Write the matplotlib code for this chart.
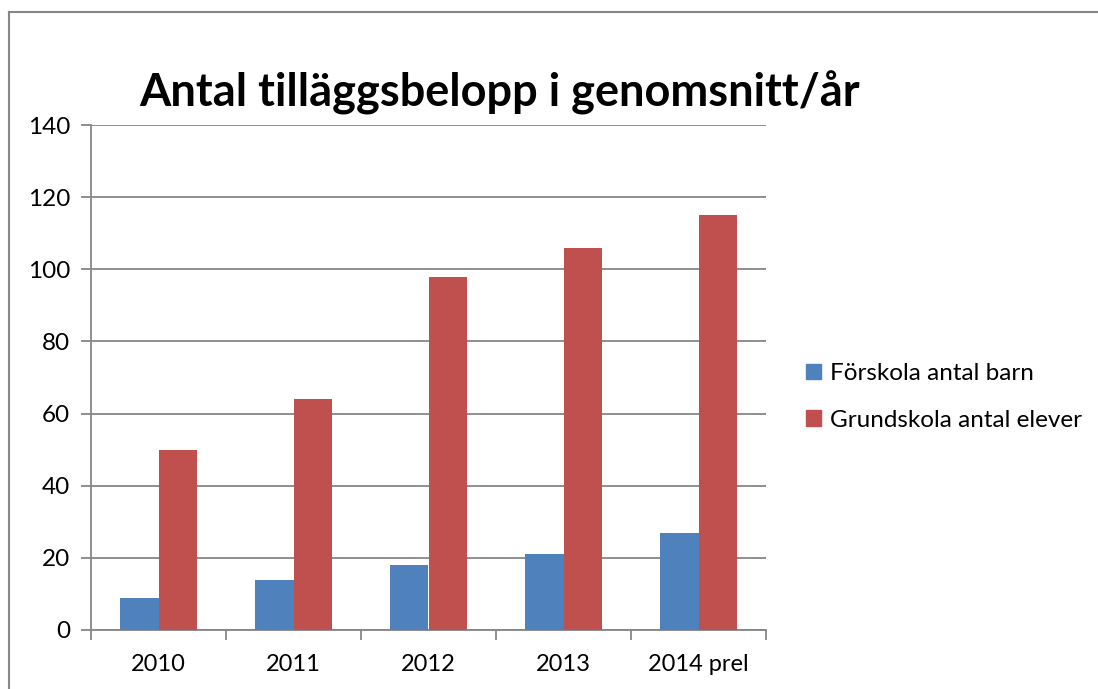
import matplotlib
matplotlib.use("Agg")
import matplotlib.pyplot as plt
from matplotlib.lines import Line2D
from matplotlib.patches import Patch
import numpy as np

categories = ["2010", "2011", "2012", "2013", "2014 prel"]
forskola = [9, 14, 18, 21, 27]
grundskola = [50, 64, 98, 106, 115]
series_names = ["Förskola antal barn", "Grundskola antal elever"]
colors = ["#4F81BD", "#C0504D"]
yticks = [0, 20, 40, 60, 80, 100, 120, 140]

plt.rcParams['font.family'] = ['Lato', 'DejaVu Sans']

W, H = 1098, 689
fig = plt.figure(figsize=(W / 100, H / 100), dpi=100)

# outer chart border
fig.add_artist(Line2D([9 / W, 9 / W], [0, 1 - 12 / H], color="#868686", lw=1.5, transform=fig.transFigure))
fig.add_artist(Line2D([9 / W, 1], [1 - 12 / H, 1 - 12 / H], color="#868686", lw=1.5, transform=fig.transFigure))

ax = fig.add_axes([91 / W, 1 - 630 / H, (766 - 91) / W, (630 - 125) / H])
x = np.arange(len(categories))
bw = 0.285
ax.bar(x - bw / 2, forskola, bw, color=colors[0], zorder=3)
ax.bar(x + bw / 2, grundskola, bw, color=colors[1], zorder=3)

ax.set_xlim(-0.5, len(categories) - 0.5)
ax.set_ylim(0, 140)
ax.set_yticks(yticks)
ax.yaxis.grid(True, color="#868686", lw=1.3, zorder=0)
ax.set_axisbelow(True)
for s in ["top", "right"]:
    ax.spines[s].set_visible(False)
for s in ["left", "bottom"]:
    ax.spines[s].set_color("#868686")
    ax.spines[s].set_linewidth(1.3)

ax.set_xticks(x)
ax.set_xticklabels(categories)
ax.tick_params(axis="x", length=0, labelsize=17, pad=17)
ax.set_xticks(np.arange(-0.5, len(categories) + 0.5, 1), minor=True)
ax.tick_params(axis="x", which="minor", length=7, width=1.3, color="#868686")
ax.tick_params(axis="y", length=7, width=1.3, color="#868686", labelsize=17.5, pad=8)

fig.text(500 / W, 1 - 93 / H, "Antal tilläggsbelopp i genomsnitt/år", ha="center", va="center",
         fontsize=32.5, fontweight="bold")

handles = [Patch(color=c) for c in colors]
fig.legend(handles, series_names, loc="center left", bbox_to_anchor=(787 / W, 1 - 397 / H),
           frameon=False, fontsize=17.5, handlelength=0.6, handleheight=0.6, handletextpad=0.35,
           labelspacing=1.05, borderpad=0.3)

fig.savefig("out.png", dpi=100)
